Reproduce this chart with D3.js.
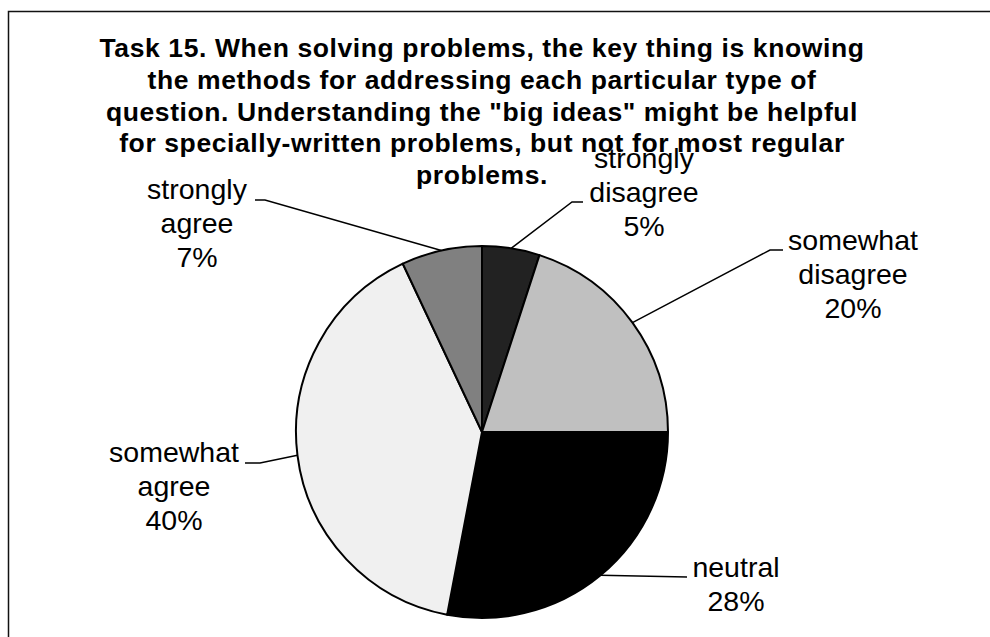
<!DOCTYPE html>
<html>
<head>
<meta charset="utf-8">
<script src="https://cdn.jsdelivr.net/npm/d3@7"></script>
<style>
  body { margin: 0; background: #fff; }
  svg { display: block; }
  text { font-family: "Liberation Sans", Arial, sans-serif; fill: #000; }
</style>
</head>
<body>
<div id="plot"></div>
<script>
// data
const categories = ["strongly disagree", "somewhat disagree", "neutral", "somewhat agree", "strongly agree"];
const values = [5, 20, 28, 40, 7];
const sliceColors = ["#222222", "#c0c0c0", "#000000", "#f0f0f0", "#808080"];
const labelLines = [["strongly", "disagree"], ["somewhat", "disagree"], ["neutral"], ["somewhat", "agree"], ["strongly", "agree"]];
const titleLines = [
  "Task 15. When solving problems, the key thing is knowing",
  "the methods for addressing each particular type of",
  "question. Understanding the \"big ideas\" might be helpful",
  "for specially-written problems, but not for most regular",
  "problems."
];

// label placement (text centre x, first baseline y, leader elbow & end)
const labelLayout = [
  { x: 644, y: 168, elbow: [572, 202], end: [583, 202] },
  { x: 853, y: 250, elbow: [770, 250], end: [783, 250] },
  { x: 736, y: 577, elbow: null, end: [687, 577] },
  { x: 174, y: 462, elbow: [260, 463], end: [245, 463] },
  { x: 197, y: 199, elbow: [265, 200], end: [255, 200] }
];

const width = 990, height = 637;
const cx = 482, cy = 432, radius = 186;

const svg = d3.select("div#plot")
  .append("svg")
    .attr("width", width)
    .attr("height", height);

// chart area border (left + top only visible)
svg.append("path")
  .attr("d", `M8.5,${height} L8.5,11.5 L${width},11.5`)
  .attr("fill", "none")
  .attr("stroke", "#111")
  .attr("stroke-width", 1.5);

// title
svg.append("text")
  .attr("text-anchor", "middle")
  .style("font-weight", "bold")
  .style("font-size", "26.5px")
  .style("letter-spacing", "0.6px")
  .selectAll("tspan")
  .data(titleLines)
  .join("tspan")
    .attr("x", cx)
    .attr("y", (d, i) => 57 + i * 31.75)
    .text(d => d);

const g = svg.append("g")
  .attr("transform", `translate(${cx}, ${cy})`);

const pie = d3.pie().sort(null).value(d => d);
const arcs = pie(values);
const arc = d3.arc().innerRadius(0).outerRadius(radius);
const edge = d3.arc().innerRadius(radius).outerRadius(radius);

g.selectAll("path.slice")
  .data(arcs)
  .join("path")
    .attr("class", "slice")
    .attr("d", arc)
    .attr("fill", (d, i) => sliceColors[i])
    .attr("stroke", "#000")
    .attr("stroke-width", 2)
    .attr("stroke-linejoin", "round");

const total = d3.sum(values);

// leader lines
svg.selectAll("polyline.leader")
  .data(arcs)
  .join("polyline")
    .attr("class", "leader")
    .attr("fill", "none")
    .attr("stroke", "#000")
    .attr("stroke-width", 1.5)
    .attr("points", (d, i) => {
      const p = edge.centroid(d);
      const pts = [[p[0] + cx, p[1] + cy]];
      const lay = labelLayout[i];
      if (lay.elbow) pts.push(lay.elbow);
      pts.push(lay.end);
      return pts.map(q => q.join(",")).join(" ");
    });

// labels
const labels = svg.selectAll("text.label")
  .data(arcs)
  .join("text")
    .attr("class", "label")
    .attr("text-anchor", "middle")
    .style("font-size", "28.5px");

labels.selectAll("tspan")
  .data((d, i) => labelLines[i].concat([Math.round(d.value / total * 100) + "%"])
    .map(t => ({ t: t, i: i })))
  .join("tspan")
    .attr("x", d => labelLayout[d.i].x)
    .attr("y", (d, j) => labelLayout[d.i].y + j * 34)
    .text(d => d.t);
</script>
</body>
</html>
